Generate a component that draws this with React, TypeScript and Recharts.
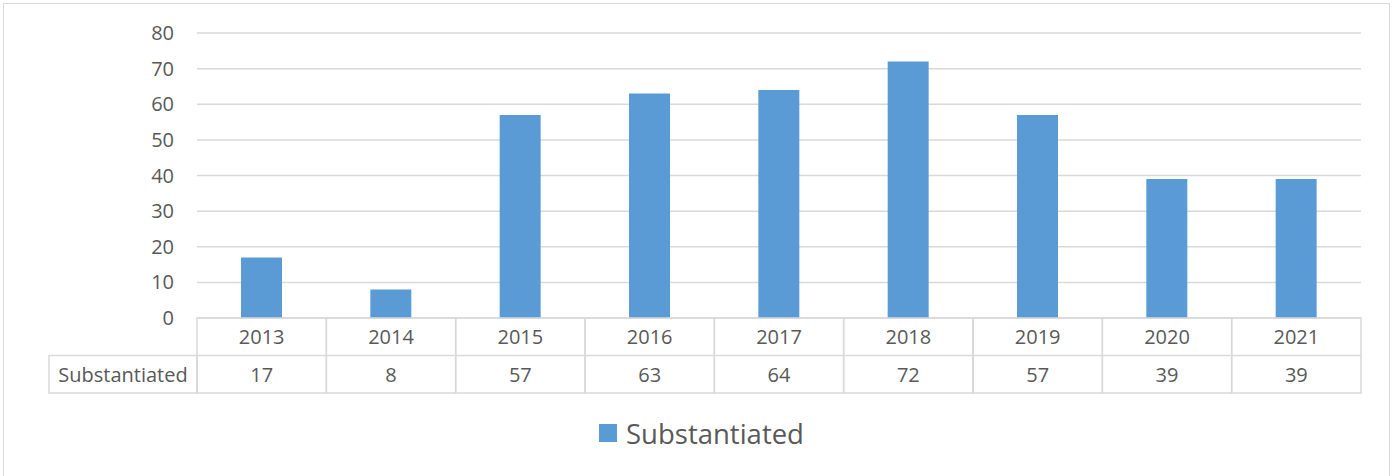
import { BarChart, Bar, XAxis, YAxis, CartesianGrid, Legend } from "recharts"

// chart values
const years = ["2013", "2014", "2015", "2016", "2017", "2018", "2019", "2020", "2021"]
const substantiated = [17, 8, 57, 63, 64, 72, 57, 39, 39]
const yTicks = [0, 10, 20, 30, 40, 50, 60, 70, 80]
const seriesName = "Substantiated"

const data = years.map((year, i) => ({ year, substantiated: substantiated[i] }))

const W = 1393
const H = 476
const PLOT_LEFT = 197
const PLOT_RIGHT = 1361
const CELL_W = (PLOT_RIGHT - PLOT_LEFT) / years.length
const ROW_H = 37.5
const HEADER_W = 148
const GRID = "#d9d9d9"
const TEXT = "#595959"
const BLUE = "#5b9bd5"
const FONT = "'Open Sans', sans-serif"

// each x tick draws its column of the data table
const TableTick = (props: any) => {
  const { x, y, payload, index } = props
  const i = index ?? payload.index
  const left = x - CELL_W / 2
  return (
    <g>
      <rect x={left} y={y} width={CELL_W} height={ROW_H * 2} fill="none" stroke={GRID} strokeWidth={1.5} />
      <line x1={left} x2={left + CELL_W} y1={y + ROW_H} y2={y + ROW_H} stroke={GRID} strokeWidth={1.5} />
      <text x={x} y={y + ROW_H / 2} textAnchor="middle" dominantBaseline="central" fill={TEXT} fontSize={20} fontFamily={FONT}>
        {payload.value}
      </text>
      <text x={x} y={y + ROW_H * 1.5} textAnchor="middle" dominantBaseline="central" fill={TEXT} fontSize={20} fontFamily={FONT}>
        {substantiated[i]}
      </text>
      {i === 0 && (
        <g>
          <rect x={left - HEADER_W} y={y + ROW_H} width={HEADER_W} height={ROW_H} fill="none" stroke={GRID} strokeWidth={1.5} />
          <text x={left - HEADER_W / 2} y={y + ROW_H * 1.5} textAnchor="middle" dominantBaseline="central" fill={TEXT} fontSize={20} fontFamily={FONT}>
            {seriesName}
          </text>
        </g>
      )}
    </g>
  )
}

const LegendContent = (props: any) => {
  const items = props.payload || []
  return (
    <div style={{ height: 40, display: "flex", justifyContent: "center", alignItems: "center", paddingLeft: 10 }}>
      {items.map((it: any) => (
        <div key={it.value} style={{ display: "flex", alignItems: "center" }}>
          <span style={{ display: "inline-block", width: 18, height: 18, background: BLUE, marginRight: 9 }} />
          <span style={{ fontFamily: FONT, fontSize: 27.5, color: TEXT }}>{it.value}</span>
        </div>
      ))}
    </div>
  )
}

export default function App() {
  return (
    <div style={{ position: "absolute", left: 0, top: 0, width: W, height: H, background: "#fff", overflow: "hidden" }}>
      <div style={{ position: "absolute", left: 3, top: 3, width: W - 8, height: H + 10, border: `1.5px solid ${GRID}` }} />
      <BarChart width={W} height={H} data={data} margin={{ top: 33, right: W - PLOT_RIGHT, left: 0, bottom: 43 }}>
        <CartesianGrid vertical={false} stroke={GRID} strokeWidth={1.5} />
        <XAxis
          dataKey="year"
          interval={0}
          axisLine={false}
          tickLine={false}
          tickSize={0}
          tickMargin={0}
          height={75}
          tick={<TableTick />}
        />
        <YAxis
          width={PLOT_LEFT}
          domain={[0, 80]}
          ticks={yTicks}
          axisLine={false}
          tickLine={false}
          tickSize={0}
          tickMargin={23}
          tick={{ fill: TEXT, fontSize: 20, fontFamily: FONT }}
        />
        <Legend verticalAlign="bottom" content={<LegendContent />} wrapperStyle={{ left: 0, width: W, bottom: undefined, top: 413 }} />
        <Bar dataKey="substantiated" name={seriesName} fill={BLUE} barSize={41} isAnimationActive={false} />
      </BarChart>
    </div>
  )
}
